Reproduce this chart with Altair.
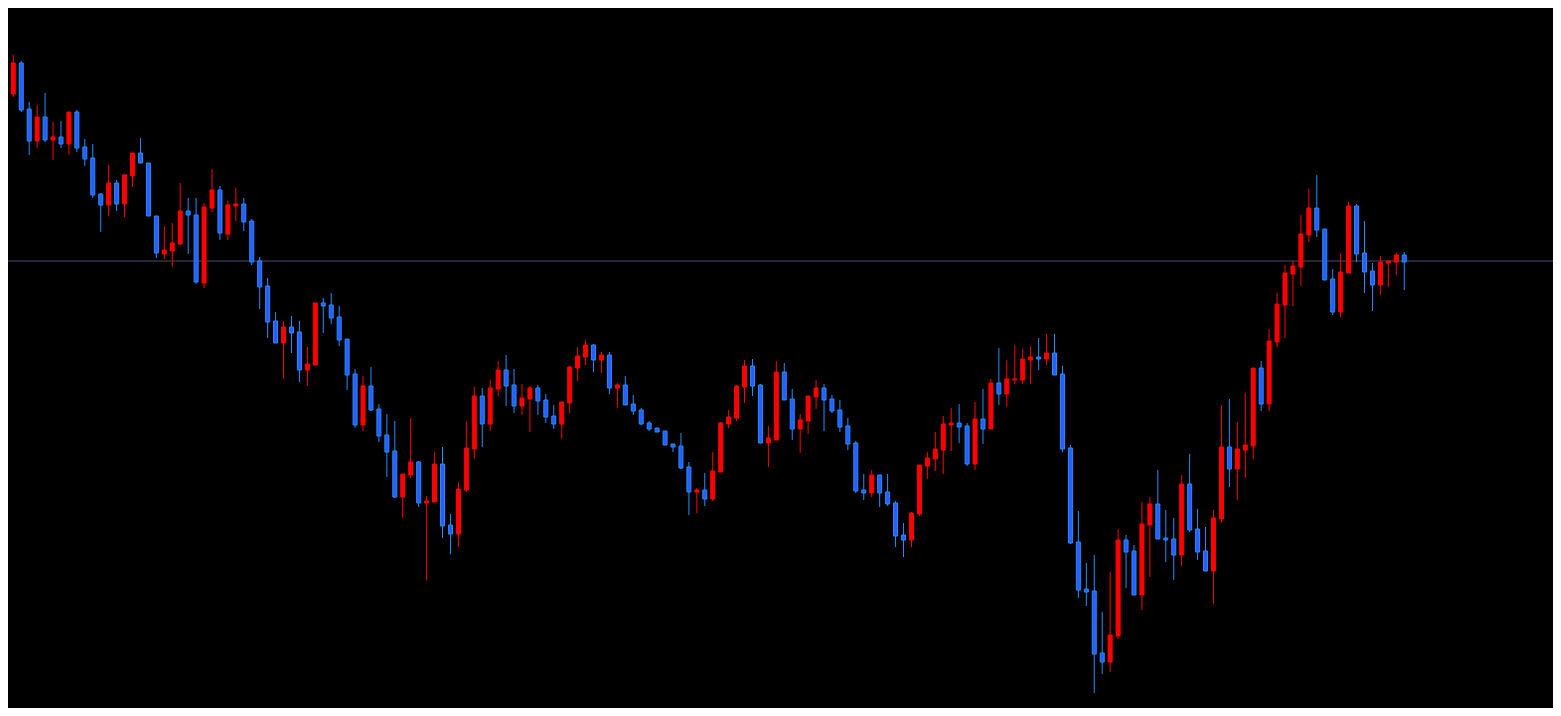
import altair as alt
import pandas as pd

# OHLC values (arbitrary price units)
opens = [617, 622, 653, 607, 575, 599, 576, 579, 572, 604, 569, 558, 522, 511, 533, 512, 540, 563, 553, 500,
         462, 465, 472, 505, 501, 433, 508, 526, 482, 510, 512, 495, 455, 430, 395, 373, 389, 384, 346, 351,
         413, 411, 399, 377, 342, 291, 330, 307, 281, 265, 219, 241, 254, 213, 214, 252, 191, 182, 226, 267,
         320, 292, 327, 346, 331, 310, 317, 328, 316, 300, 292, 313, 348, 359, 371, 356, 361, 328, 331, 312,
         306, 293, 288, 285, 272, 270, 249, 224, 226, 217, 244, 292, 298, 329, 350, 331, 273, 276, 344, 317,
         287, 295, 319, 328, 317, 306, 290, 273, 226, 223, 241, 224, 213, 181, 176, 202, 250, 257, 266, 291,
         293, 290, 252, 297, 287, 333, 322, 336, 336, 356, 359, 357, 363, 342, 268, 174, 127, 125, 63, 54,
         80, 176, 165, 121, 191, 212, 178, 177, 161, 232, 187, 165, 145, 197, 269, 247, 266, 270, 348, 312,
         374, 411, 442, 449, 481, 508, 487, 437, 404, 443, 510, 463, 445, 431, 453, 454, 461]
highs = [627, 661, 655, 614, 611, 623, 594, 595, 604, 606, 577, 572, 523, 551, 536, 542, 563, 578, 553, 500,
         490, 493, 533, 518, 518, 513, 547, 530, 515, 528, 518, 497, 459, 438, 404, 395, 400, 395, 369, 413,
         418, 423, 410, 377, 347, 340, 349, 312, 302, 295, 242, 298, 255, 220, 264, 269, 202, 234, 295, 329,
         328, 336, 355, 361, 347, 332, 330, 331, 322, 311, 314, 350, 369, 376, 372, 364, 364, 333, 340, 321,
         308, 295, 288, 285, 272, 283, 254, 228, 243, 264, 294, 306, 331, 356, 357, 332, 290, 355, 353, 327,
         302, 320, 336, 332, 321, 316, 298, 275, 242, 246, 241, 242, 215, 193, 204, 251, 264, 284, 300, 308,
         312, 293, 314, 327, 337, 368, 356, 371, 367, 370, 378, 382, 382, 350, 271, 205, 153, 161, 104, 144,
         187, 181, 171, 214, 219, 246, 206, 198, 241, 262, 207, 189, 206, 311, 317, 294, 323, 348, 355, 387,
         423, 451, 455, 501, 527, 541, 487, 447, 463, 514, 512, 495, 453, 460, 455, 463, 464]
lows = [590, 619, 604, 561, 568, 574, 556, 568, 561, 564, 550, 518, 484, 500, 505, 499, 529, 553, 500, 458,
        457, 449, 471, 462, 432, 428, 504, 476, 476, 495, 485, 451, 407, 378, 373, 337, 363, 334, 330, 351,
        383, 392, 370, 326, 288, 285, 305, 274, 239, 218, 198, 238, 209, 136, 214, 178, 162, 169, 224, 257,
        269, 285, 320, 310, 303, 301, 284, 301, 293, 287, 277, 303, 335, 351, 344, 343, 322, 308, 311, 301,
        291, 285, 284, 271, 264, 247, 201, 203, 210, 215, 244, 288, 295, 313, 320, 273, 249, 276, 316, 276,
        263, 282, 307, 285, 303, 284, 266, 223, 216, 219, 209, 210, 169, 159, 169, 200, 237, 245, 242, 265,
        273, 250, 246, 272, 287, 311, 309, 332, 332, 332, 346, 351, 341, 264, 172, 118, 110, 23, 42, 44,
        77, 128, 121, 106, 139, 177, 154, 136, 150, 184, 156, 145, 112, 193, 229, 216, 238, 257, 305, 305,
        369, 378, 410, 430, 474, 479, 436, 401, 399, 443, 454, 423, 405, 421, 429, 441, 426]
closes = [623, 653, 606, 575, 599, 576, 579, 572, 604, 568, 557, 521, 511, 533, 512, 541, 563, 553, 500, 463,
          466, 473, 505, 501, 434, 509, 526, 483, 511, 512, 494, 454, 429, 394, 373, 389, 383, 346, 352, 413,
          410, 398, 376, 341, 291, 330, 306, 280, 264, 219, 242, 254, 213, 215, 252, 190, 182, 227, 268, 320,
          292, 328, 346, 330, 310, 318, 328, 315, 299, 292, 314, 349, 360, 371, 356, 361, 328, 331, 311, 305,
          292, 287, 284, 271, 269, 248, 224, 226, 217, 245, 293, 299, 330, 350, 330, 273, 278, 344, 316, 287,
          296, 320, 328, 316, 305, 289, 272, 225, 223, 241, 223, 212, 180, 176, 203, 251, 258, 267, 292, 293,
          289, 252, 297, 287, 333, 322, 337, 337, 357, 359, 357, 363, 341, 267, 173, 126, 124, 62, 54, 81,
          176, 164, 121, 192, 212, 177, 176, 161, 232, 186, 164, 145, 198, 269, 247, 267, 271, 348, 312, 375,
          412, 443, 450, 482, 508, 486, 436, 404, 444, 510, 462, 444, 431, 454, 455, 461, 454]
level = [455]

df = pd.DataFrame({
    "bar": list(range(len(opens))),
    "open": opens,
    "high": highs,
    "low": lows,
    "close": closes,
})
df["dir"] = ["up" if c > o else "down" for o, c in zip(opens, closes)]

# scales aligned so candles sit where they do in the reference window
xscale = alt.Scale(domain=[0.9625, 194.0875], nice=False, zero=False)
yscale = alt.Scale(domain=[8, 708], nice=False, zero=False)

wick_color = alt.Color("dir:N", scale=alt.Scale(domain=["up", "down"], range=["#ff0000", "#1e90ff"]), legend=None)
body_fill = alt.Fill("dir:N", scale=alt.Scale(domain=["up", "down"], range=["#ff0000", "#2b5cff"]), legend=None)
body_stroke = alt.Stroke("dir:N", scale=alt.Scale(domain=["up", "down"], range=["#ff0000", "#1e90ff"]), legend=None)

base = alt.Chart(df)

hline = alt.Chart(pd.DataFrame({"level": level})).mark_rule(color="#4e4870", strokeWidth=1).encode(
    y=alt.Y("level:Q", scale=yscale, axis=None)
)

wicks = base.mark_rule(strokeWidth=1, clip=True).encode(
    x=alt.X("bar:Q", scale=xscale, axis=None),
    y=alt.Y("low:Q", scale=yscale, axis=None),
    y2="high:Q",
    color=wick_color,
)

bodies = base.mark_bar(size=4, strokeWidth=1, clip=True).encode(
    x=alt.X("bar:Q", scale=xscale, axis=None),
    y=alt.Y("open:Q", scale=yscale, axis=None),
    y2="close:Q",
    fill=body_fill,
    stroke=body_stroke,
)

chart = alt.layer(hline, wicks, bodies).properties(
    width=1545,
    height=700,
    background="#000000",
    padding=0,
    autosize=alt.AutoSizeParams(type="none"),
).configure_view(stroke=None, fill="#000000")

chart.save("out.html", embed_options={"renderer": "svg", "actions": False})
